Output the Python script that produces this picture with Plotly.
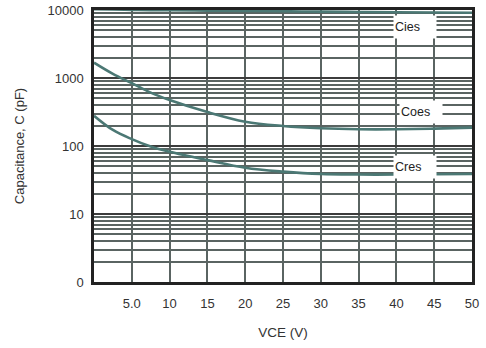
import numpy as np
import plotly.graph_objects as go

vce = [0, 2.5, 5, 7.5, 10, 15, 20, 25, 30, 35, 40, 45, 50]
cies = [10300, 10150, 10050, 9950, 9900, 9800, 9700, 9600, 9450, 9350, 9250, 9180, 9130]
coes = [1680, 1150, 840, 610, 475, 316, 228, 197, 182, 176, 176, 180, 186]
cres = [279, 172, 126, 98, 82, 62, 48, 42, 38.7, 38, 38, 38.5, 38.7]

series_names = ["Cies", "Coes", "Cres"]
label_x = [42.4, 43.2, 42.5]
label_y = [5623, 316, 49]

y_tickvals = [1, 10, 100, 1000, 10000]
y_ticktext = ["0", "10", "100", "1000", "10000"]
x_tickvals = [5, 10, 15, 20, 25, 30, 35, 40, 45, 50]
x_ticktext = ["5.0", "10", "15", "20", "25", "30", "35", "40", "45", "50"]

curve_color = "#4b7874"
grid_color = "#5a6462"

fig = go.Figure()
for name, vals in zip(series_names, [cies, coes, cres]):
    fig.add_trace(go.Scatter(x=vce, y=vals, mode="lines", name=name,
                             line=dict(color=curve_color, width=2.6, shape="spline", smoothing=1.0)))

for name, lx, ly in zip(series_names, label_x, label_y):
    fig.add_annotation(x=lx, y=np.log10(ly), xref="x", yref="y", text=name,
                       showarrow=False, bgcolor="white", width=40, height=20,
                       align="left", font=dict(size=12.5, color="#222"))

font = "Liberation Sans, Arial, sans-serif"
fig.update_layout(
    width=486, height=348,
    margin=dict(l=94, r=14, t=10, b=66, autoexpand=False),
    plot_bgcolor="white", paper_bgcolor="white",
    showlegend=False,
    font=dict(family=font, size=13, color="#333"),
    xaxis=dict(range=[0, 50], tickvals=x_tickvals, ticktext=x_ticktext,
               showgrid=True, gridcolor=grid_color, gridwidth=2,
               showline=True, mirror=True, linecolor="#222", linewidth=2.5,
               ticks="", ticklabelstandoff=8, zeroline=False, automargin=False,
               title=dict(text="VCE (V)", standoff=18, font=dict(size=13.5, color="#333"))),
    yaxis=dict(type="log", range=[0, 4], tickvals=y_tickvals, ticktext=y_ticktext,
               showgrid=True, gridcolor="#3c3c3c", gridwidth=2,
               minor=dict(dtick="D1", showgrid=True, gridcolor=grid_color, gridwidth=1.6, ticks=""),
               showline=True, mirror=True, linecolor="#222", linewidth=2.5,
               ticks="", ticklabelstandoff=5, zeroline=False, automargin=False,
               title=dict(text="Capacitance, C (pF)", standoff=20, font=dict(size=13, color="#333"))),
)

fig.write_html("out.html", config={"displayModeBar": False})
with open("out.html", encoding="utf-8") as f:
    html = f.read()
html = html.replace("<head>", "<head><style>html,body{margin:0;padding:0;overflow:hidden;}</style>", 1)
with open("out.html", "w", encoding="utf-8") as f:
    f.write(html)
